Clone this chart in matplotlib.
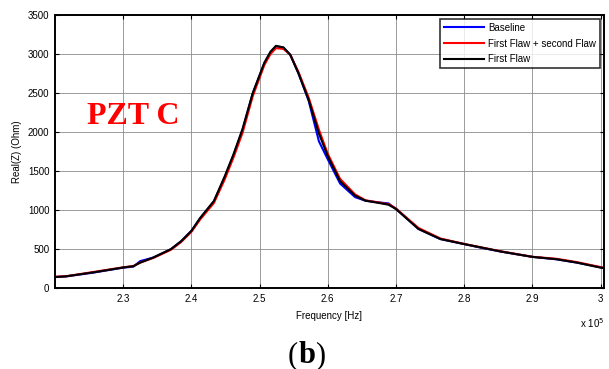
import numpy as np
import matplotlib.pyplot as plt

# Real part of impedance vs frequency for PZT C (frequency in units of 1e5 Hz)
freq = [2.20, 2.216, 2.256, 2.30, 2.315, 2.325, 2.344, 2.37, 2.385, 2.40, 2.413,
        2.433, 2.449, 2.462, 2.475, 2.49, 2.507, 2.516, 2.524, 2.535, 2.545, 2.557,
        2.572, 2.587, 2.60, 2.618, 2.64, 2.655, 2.672, 2.689, 2.70, 2.715, 2.733,
        2.765, 2.80, 2.82, 2.854, 2.90, 2.935, 2.965, 3.0, 3.005]
baseline = [140, 148, 197, 261, 274, 345, 390, 498, 600, 731, 894,
            1110, 1420, 1710, 2026, 2496, 2881, 3020, 3100, 3080, 2990, 2752,
            2400, 1880, 1650, 1340, 1165, 1120, 1100, 1085, 1013, 900, 757,
            628, 563, 525, 467, 399, 369, 326, 265, 258]
first_second = [145, 150, 205, 265, 282, 326, 385, 490, 590, 720, 880,
                1090, 1395, 1680, 1990, 2460, 2860, 3000, 3075, 3065, 2990, 2770,
                2440, 2030, 1720, 1400, 1200, 1125, 1100, 1075, 1020, 905, 770,
                635, 565, 530, 470, 400, 375, 332, 268, 260]
first_flaw = [140, 150, 200, 263, 280, 326, 390, 498, 600, 733, 900,
              1115, 1435, 1720, 2040, 2500, 2890, 3030, 3105, 3085, 2990, 2752,
              2410, 1980, 1690, 1370, 1184, 1120, 1095, 1068, 1013, 895, 757,
              628, 563, 528, 467, 399, 369, 326, 261, 255]

plt.rcParams['font.family'] = ['Liberation Sans', 'DejaVu Sans']

fig = plt.figure(figsize=(6.09, 3.69), dpi=100)
ax = fig.add_axes([0.0903, 0.2195, 0.9015, 0.7398])

f = np.array(freq) * 1e5
ax.plot(f, baseline, color='#0000ff', lw=1.5, label='Baseline')
ax.plot(f, first_second, color='#ff0000', lw=1.5, label='First Flaw + second Flaw')
ax.plot(f, first_flaw, color='black', lw=1.5, label='First Flaw')

ax.set_xlim(2.2e5, 3.005e5)
ax.set_ylim(0, 3500)
ax.set_xticks(np.arange(2.3, 3.01, 0.1) * 1e5)
ax.set_xticklabels(['2.3', '2.4', '2.5', '2.6', '2.7', '2.8', '2.9', '3'])
ax.set_yticks(range(0, 3501, 500))

ax.grid(True, color='#8c8c8c', lw=0.6)
ax.tick_params(direction='in', top=True, right=True, labelsize=7, length=3,
               width=0.8, pad=4)
for s in ax.spines.values():
    s.set_linewidth(1.4)

ax.set_xlabel('Frequency [Hz]', fontsize=7, labelpad=5)
ax.set_ylabel('Real(Z) (Ohm)', fontsize=7, labelpad=4)
fig.text(0.952, 0.125, r'x 10$^5$', fontsize=7, ha='left', va='center')

ax.text(0.058, 0.63, 'PZT C', transform=ax.transAxes, color='red',
        fontsize=23, fontweight='bold', family='Liberation Serif', va='center')

leg = ax.legend(loc='upper right', fontsize=7, frameon=True, fancybox=False,
                borderpad=0.35, handlelength=4.2, labelspacing=0.6,
                borderaxespad=0.45, handletextpad=0.4)
leg.get_frame().set_edgecolor('black')
leg.get_frame().set_linewidth(1.2)

# panel label "(b)" with bold letter, pieces placed side by side
renderer = fig.canvas.get_renderer()
x0, y0 = 0.473, 0.036
for piece, weight in [('(', 'normal'), ('b', 'bold'), (')', 'normal')]:
    t = fig.text(x0, y0, piece, fontsize=22, family='Liberation Serif',
                 fontweight=weight, ha='left', va='center')
    bb = t.get_window_extent(renderer)
    x0 = fig.transFigure.inverted().transform((bb.x1, bb.y0))[0]

fig.savefig('out.png', dpi=100)
